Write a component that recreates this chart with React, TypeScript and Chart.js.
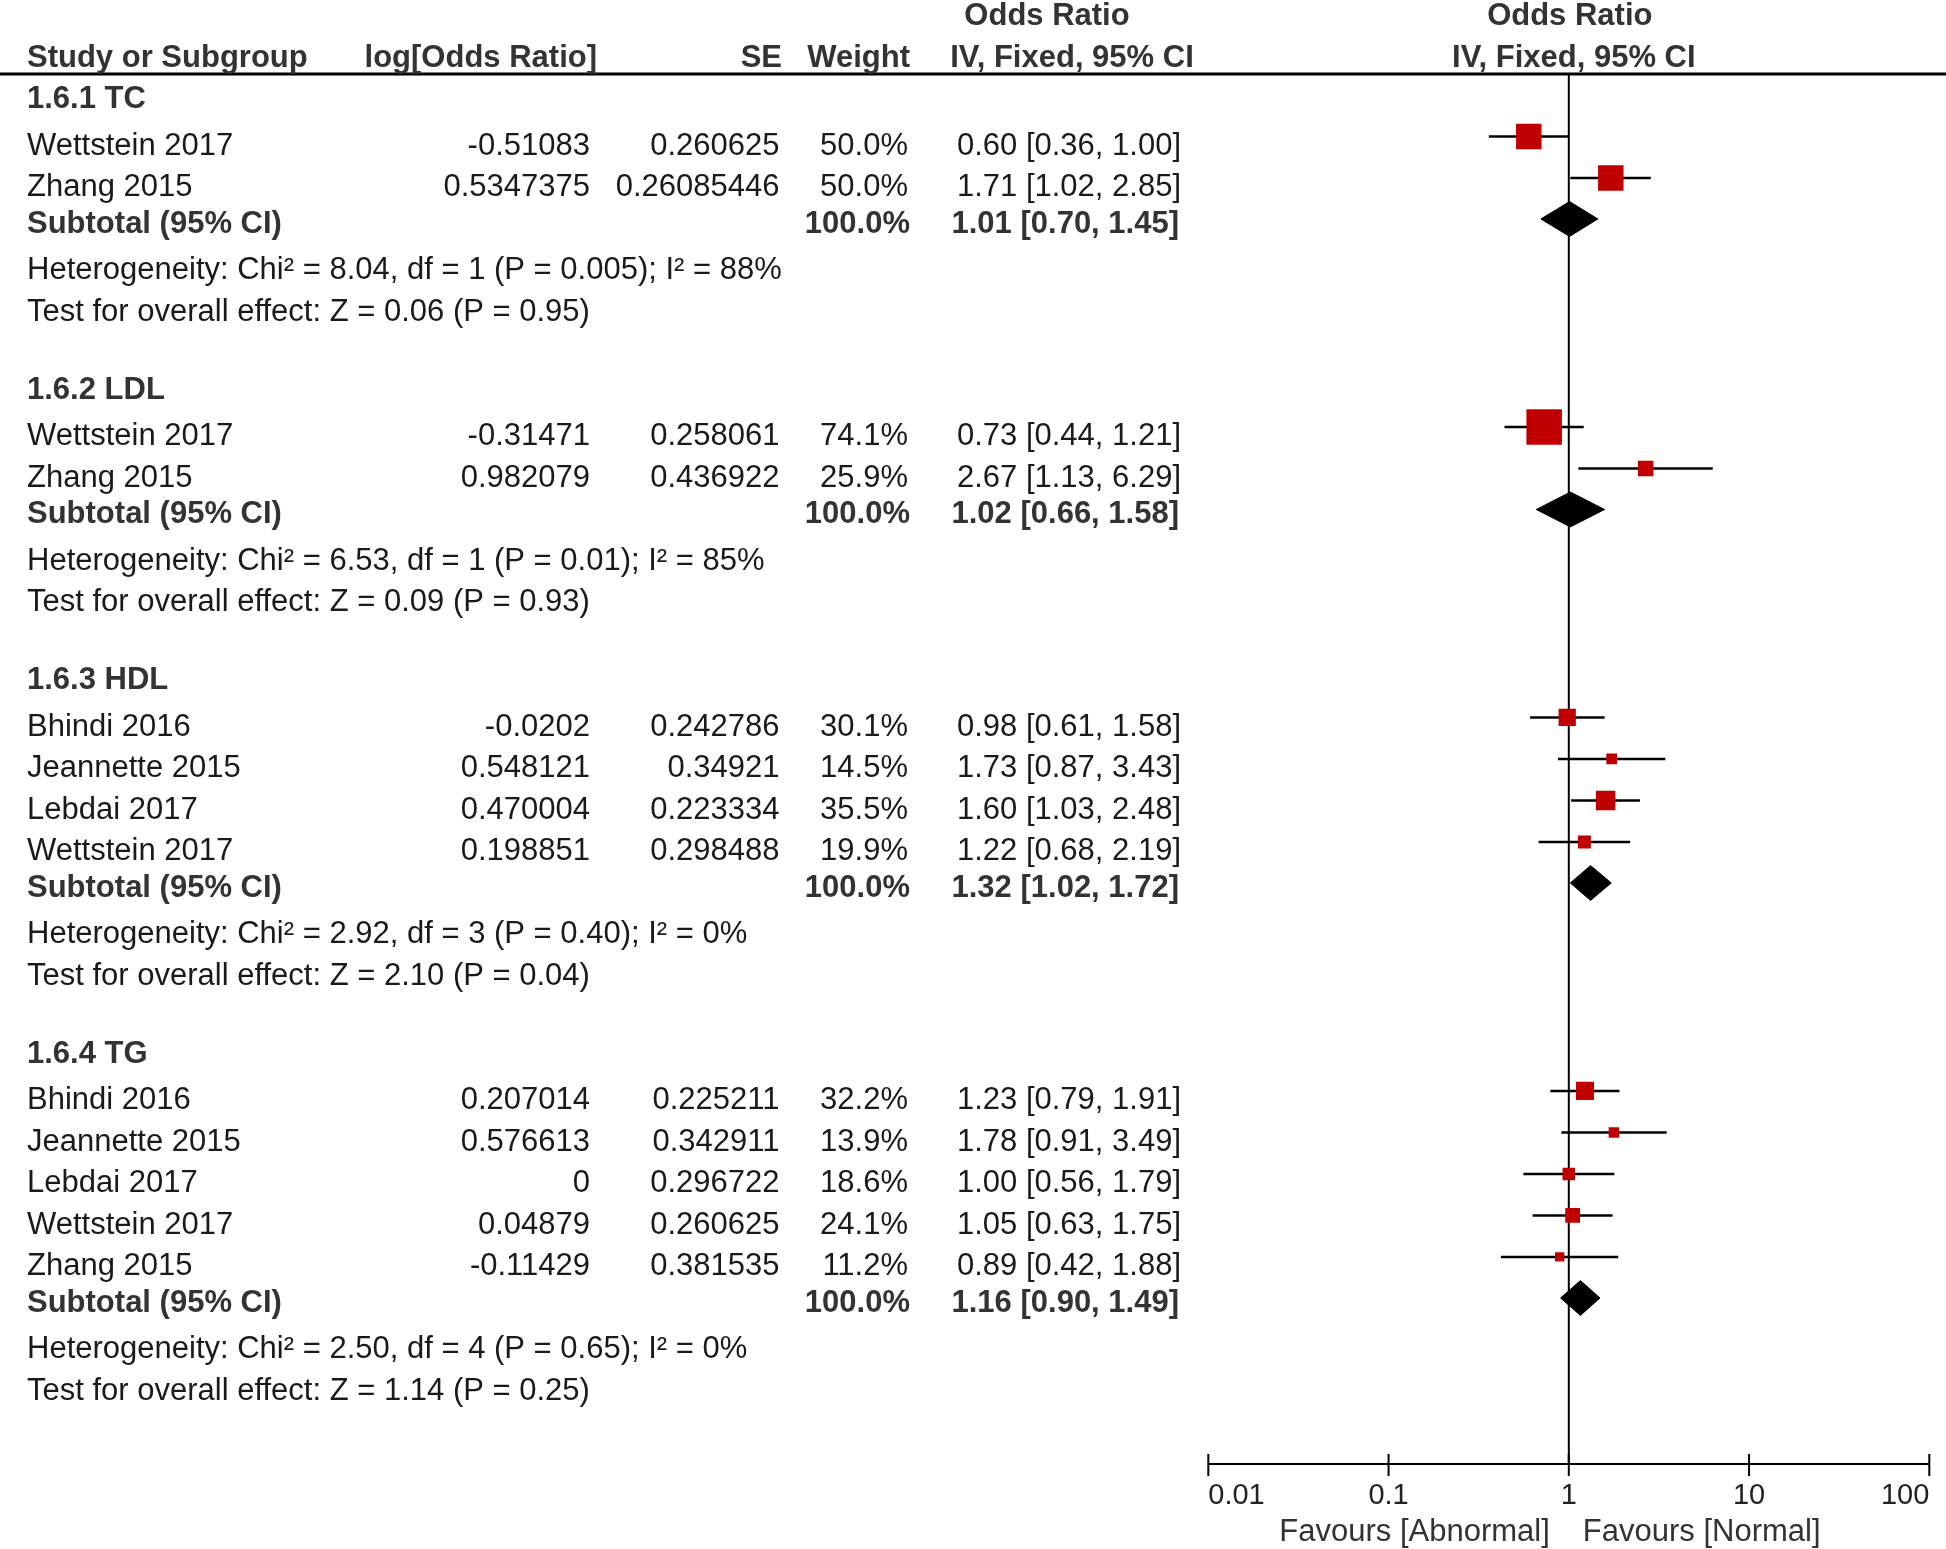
import React, { useEffect, useRef } from "react";
import { Chart, registerables } from "chart.js";

Chart.register(...registerables);

// ---------------- data ----------------
const subgroupTitles = ["1.6.1 TC", "1.6.2 LDL", "1.6.3 HDL", "1.6.4 TG"];
const studyGroup = [0, 0, 1, 1, 2, 2, 2, 2, 3, 3, 3, 3, 3];
const studyNames = [
  "Wettstein 2017", "Zhang 2015",
  "Wettstein 2017", "Zhang 2015",
  "Bhindi 2016", "Jeannette 2015", "Lebdai 2017", "Wettstein 2017",
  "Bhindi 2016", "Jeannette 2015", "Lebdai 2017", "Wettstein 2017", "Zhang 2015",
];
const logOddsRatios = [
  -0.51083, 0.5347375,
  -0.31471, 0.982079,
  -0.0202, 0.548121, 0.470004, 0.198851,
  0.207014, 0.576613, 0, 0.04879, -0.11429,
];
const standardErrors = [
  0.260625, 0.26085446,
  0.258061, 0.436922,
  0.242786, 0.34921, 0.223334, 0.298488,
  0.225211, 0.342911, 0.296722, 0.260625, 0.381535,
];
const weights = [50.0, 50.0, 74.1, 25.9, 30.1, 14.5, 35.5, 19.9, 32.2, 13.9, 18.6, 24.1, 11.2];
const oddsRatios = [0.60, 1.71, 0.73, 2.67, 0.98, 1.73, 1.60, 1.22, 1.23, 1.78, 1.00, 1.05, 0.89];
const ciLower = [0.36, 1.02, 0.44, 1.13, 0.61, 0.87, 1.03, 0.68, 0.79, 0.91, 0.56, 0.63, 0.42];
const ciUpper = [1.00, 2.85, 1.21, 6.29, 1.58, 3.43, 2.48, 2.19, 1.91, 3.49, 1.79, 1.75, 1.88];

const subtotalWeights = [100.0, 100.0, 100.0, 100.0];
const subtotalOR = [1.01, 1.02, 1.32, 1.16];
const subtotalLower = [0.70, 0.66, 1.02, 0.90];
const subtotalUpper = [1.45, 1.58, 1.72, 1.49];

const heterogeneityTexts = [
  "Heterogeneity: Chi² = 8.04, df = 1 (P = 0.005); I² = 88%",
  "Heterogeneity: Chi² = 6.53, df = 1 (P = 0.01); I² = 85%",
  "Heterogeneity: Chi² = 2.92, df = 3 (P = 0.40); I² = 0%",
  "Heterogeneity: Chi² = 2.50, df = 4 (P = 0.65); I² = 0%",
];
const overallEffectTexts = [
  "Test for overall effect: Z = 0.06 (P = 0.95)",
  "Test for overall effect: Z = 0.09 (P = 0.93)",
  "Test for overall effect: Z = 2.10 (P = 0.04)",
  "Test for overall effect: Z = 1.14 (P = 0.25)",
];

const columnHeaders = ["Study or Subgroup", "log[Odds Ratio]", "SE", "Weight", "IV, Fixed, 95% CI"];
const effectHeader = "Odds Ratio";
const subtotalLabel = "Subtotal (95% CI)";
const axisTicks = [0.01, 0.1, 1, 10, 100];
const axisTickLabels = ["0.01", "0.1", "1", "10", "100"];
const favoursLabels = ["Favours [Abnormal]", "Favours [Normal]"];

// ---------------- layout (row units) ----------------
const W = 1946;
const H = 1549;
const FONT = '"Liberation Sans", Arial, Helvetica, sans-serif';
const TEXT_DY = 18.5; // baseline below the row line (px)
const DIAMOND_DY = 0.12;
const DIAMOND_HALF = 0.42;
const RULE_POS = -0.373;
const AXIS_POS = 33.12;

const headerPos: number[] = [];
const studyPos: number[] = [];
const subtotalPos: number[] = [];
const hetPos: number[] = [];
const testPos: number[] = [];
(() => {
  let s = 0;
  for (let g = 0; g < subgroupTitles.length; g++) {
    const idx = studyGroup.map((v, i) => (v === g ? i : -1)).filter((i) => i >= 0);
    const n = idx.length;
    headerPos[g] = s;
    idx.forEach((i, k) => (studyPos[i] = s + 1.13 + k));
    subtotalPos[g] = s + n + 1;
    hetPos[g] = s + n + 2.13;
    testPos[g] = s + n + 3.13;
    s += n + 5;
  }
})();

const squareSide = (w: number) => 4.75 + 0.415 * w;

function buildDatasets() {
  const sets: any[] = [];
  sets.push({
    type: "scatter",
    order: 0,
    data: oddsRatios.map((v, i) => ({ x: v, y: studyPos[i] })),
    pointStyle: "rect",
    pointRadius: weights.map((w) => squareSide(w) / Math.SQRT2),
    pointHoverRadius: weights.map((w) => squareSide(w) / Math.SQRT2),
    pointBackgroundColor: "#C00000",
    pointBorderWidth: 0,
    showLine: false,
  });
  oddsRatios.forEach((_, i) => {
    sets.push({
      type: "line",
      order: 1,
      data: [
        { x: ciLower[i], y: studyPos[i] },
        { x: ciUpper[i], y: studyPos[i] },
      ],
      borderColor: "#000",
      borderWidth: 2.5,
      pointRadius: 0,
      fill: false,
      tension: 0,
    });
  });
  subtotalOR.forEach((v, g) => {
    const y = subtotalPos[g] + DIAMOND_DY;
    sets.push({
      type: "line",
      order: 1,
      data: [
        { x: subtotalLower[g], y },
        { x: v, y: y - DIAMOND_HALF },
        { x: subtotalUpper[g], y },
        { x: v, y: y + DIAMOND_HALF },
        { x: subtotalLower[g], y },
      ],
      borderColor: "#000",
      backgroundColor: "#000",
      borderWidth: 1,
      pointRadius: 0,
      fill: "shape",
      tension: 0,
    });
  });
  return sets;
}

const backgroundPlugin = {
  id: "forestBackground",
  beforeDatasetsDraw(chart: any) {
    const ctx = chart.ctx;
    const xs = chart.scales.x;
    const ys = chart.scales.y;
    const x1 = xs.getPixelForValue(1);
    const ruleY = ys.getPixelForValue(RULE_POS);
    const axisY = ys.getPixelForValue(AXIS_POS);
    ctx.save();
    ctx.strokeStyle = "#000";
    // header rule
    ctx.lineWidth = 3;
    ctx.beginPath();
    ctx.moveTo(0, ruleY);
    ctx.lineTo(W, ruleY);
    ctx.stroke();
    // line of no effect
    ctx.lineWidth = 2;
    ctx.beginPath();
    ctx.moveTo(x1, ruleY);
    ctx.lineTo(x1, axisY);
    ctx.stroke();
    // axis
    ctx.beginPath();
    ctx.moveTo(xs.getPixelForValue(axisTicks[0]), axisY);
    ctx.lineTo(xs.getPixelForValue(axisTicks[axisTicks.length - 1]), axisY);
    ctx.stroke();
    axisTicks.forEach((t) => {
      const x = xs.getPixelForValue(t);
      ctx.beginPath();
      ctx.moveTo(x, axisY - 10);
      ctx.lineTo(x, axisY + 12);
      ctx.stroke();
    });
    ctx.restore();
  },
};

const textPlugin = {
  id: "forestText",
  afterDatasetsDraw(chart: any) {
    const ctx = chart.ctx;
    const xs = chart.scales.x;
    const ys = chart.scales.y;
    const x1 = xs.getPixelForValue(1);
    const rowY = (p: number) => ys.getPixelForValue(p) + TEXT_DY;
    const txt = (s: string, x: number, y: number, align: CanvasTextAlign, bold: boolean, size = 31, color?: string) => {
      ctx.font = `${bold ? "bold " : ""}${size}px ${FONT}`;
      ctx.fillStyle = color || (bold ? "#333" : "#1a1a1a");
      ctx.textAlign = align;
      ctx.textBaseline = "alphabetic";
      ctx.fillText(s, x, y);
    };
    ctx.save();
    // headers
    txt(effectHeader, 1047, rowY(-2), "center", true);
    txt(effectHeader, x1 + 1, rowY(-2), "center", true);
    txt(columnHeaders[0], 27, rowY(-1), "left", true);
    txt(columnHeaders[1], 597, rowY(-1), "right", true);
    txt(columnHeaders[2], 782, rowY(-1), "right", true);
    txt(columnHeaders[3], 910, rowY(-1), "right", true);
    txt(columnHeaders[4], 1072, rowY(-1), "center", true);
    txt(columnHeaders[4], x1 + 5, rowY(-1), "center", true);

    subgroupTitles.forEach((t, g) => {
      txt(t, 27, rowY(headerPos[g]), "left", true);
      txt(subtotalLabel, 27, rowY(subtotalPos[g]), "left", true);
      txt(subtotalWeights[g].toFixed(1) + "%", 910, rowY(subtotalPos[g]), "right", true);
      txt(
        `${subtotalOR[g].toFixed(2)} [${subtotalLower[g].toFixed(2)}, ${subtotalUpper[g].toFixed(2)}]`,
        1179, rowY(subtotalPos[g]), "right", true
      );
      txt(heterogeneityTexts[g], 27, rowY(hetPos[g]), "left", false);
      txt(overallEffectTexts[g], 27, rowY(testPos[g]), "left", false);
    });
    studyNames.forEach((name, i) => {
      const y = rowY(studyPos[i]);
      txt(name, 27, y, "left", false);
      txt(String(logOddsRatios[i]), 590, y, "right", false);
      txt(String(standardErrors[i]), 779.5, y, "right", false);
      txt(weights[i].toFixed(1) + "%", 908, y, "right", false);
      txt(`${oddsRatios[i].toFixed(2)} [${ciLower[i].toFixed(2)}, ${ciUpper[i].toFixed(2)}]`, 1181, y, "right", false);
    });

    // axis labels
    const axisY = ys.getPixelForValue(AXIS_POS);
    axisTicks.forEach((t, k) => {
      const align: CanvasTextAlign = k === 0 ? "left" : k === axisTicks.length - 1 ? "right" : "center";
      txt(axisTickLabels[k], xs.getPixelForValue(t), axisY + 40.5, align, false, 29, "#222");
    });
    txt(favoursLabels[0], x1 - 19, axisY + 77, "right", false, 31, "#333");
    txt(favoursLabels[1], x1 + 14, axisY + 77, "left", false, 31, "#333");
    ctx.restore();
  },
};

export default function App() {
  const ref = useRef<HTMLCanvasElement>(null);
  useEffect(() => {
    const canvas = ref.current;
    if (!canvas) return;
    const chart = new Chart(canvas, {
      type: "scatter",
      data: { datasets: buildDatasets() },
      options: {
        responsive: false,
        animation: false,
        devicePixelRatio: 1,
        events: [],
        layout: { autoPadding: false, padding: { left: 1208.3, right: 16.7, top: 6.5, bottom: 48.5 } },
        scales: {
          x: { type: "logarithmic", min: 0.01, max: 100, display: false },
          y: { type: "linear", min: -2, max: 34, reverse: true, display: false },
        },
        plugins: { legend: { display: false }, tooltip: { enabled: false } },
      } as any,
      plugins: [backgroundPlugin, textPlugin],
    } as any);
    return () => chart.destroy();
  }, []);
  return (
    <canvas
      ref={ref}
      width={W}
      height={H}
      style={{ position: "fixed", left: 0, top: 0, width: W, height: H, display: "block", background: "#fff" }}
    />
  );
}
